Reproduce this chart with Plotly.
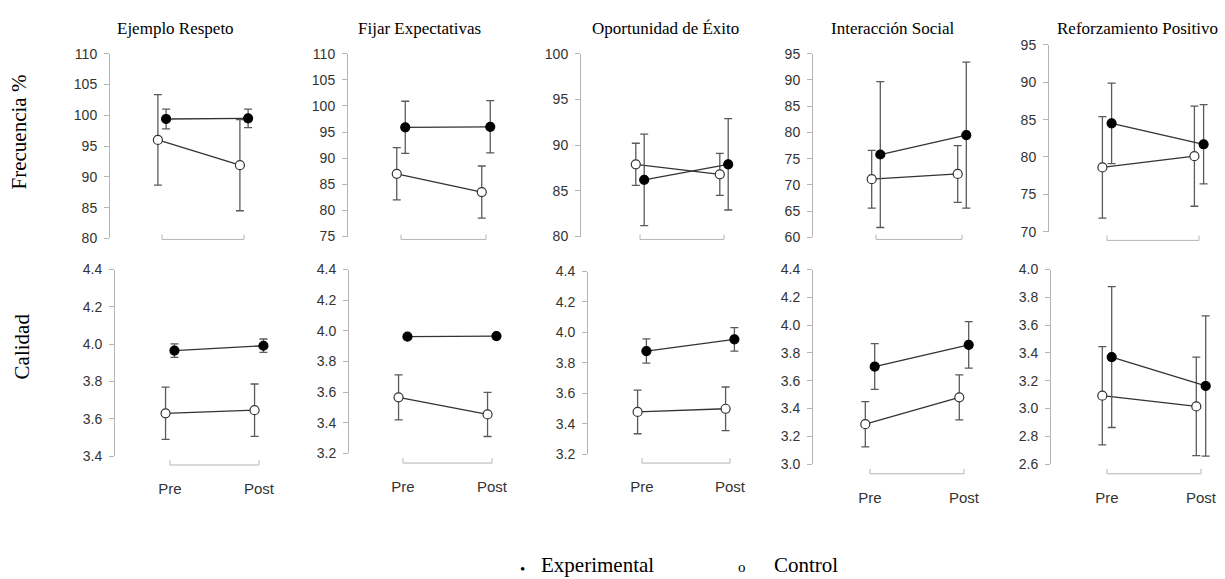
import plotly.graph_objects as go

W, H = 1225, 579

panels = ["Ejemplo Respeto", "Fijar Expectativas", "Oportunidad de Éxito",
          "Interacción Social", "Reforzamiento Positivo"]
phases = ["Pre", "Post"]
groups = ["Experimental", "Control"]

# Frecuencia % (top row): means and half-widths of error bars
freq_exp_mean = [[99.4, 99.5], [95.9, 96.0], [86.2, 87.9], [75.8, 79.5], [84.5, 81.7]]
freq_exp_err = [[1.6, 1.5], [5.0, 5.0], [5.0, 5.0], [13.9, 13.9], [5.4, 5.3]]
freq_ctrl_mean = [[96.0, 91.9], [87.0, 83.5], [87.9, 86.8], [71.1, 72.1], [78.6, 80.1]]
freq_ctrl_err = [[7.35, 7.4], [5.0, 5.0], [2.3, 2.3], [5.5, 5.4], [6.8, 6.7]]

# Calidad (bottom row)
cal_exp_mean = [[3.966, 3.992], [3.962, 3.966], [3.878, 3.955], [3.702, 3.858], [3.37, 3.162]]
cal_exp_err = [[0.036, 0.036], [0.008, 0.008], [0.08, 0.077], [0.165, 0.167], [0.507, 0.505]]
cal_ctrl_mean = [[3.63, 3.647], [3.566, 3.454], [3.478, 3.499], [3.287, 3.48], [3.092, 3.015]]
cal_ctrl_err = [[0.14, 0.14], [0.147, 0.144], [0.143, 0.143], [0.163, 0.162], [0.354, 0.355]]

freq_ticks = [[80, 85, 90, 95, 100, 105, 110],
              [75, 80, 85, 90, 95, 100, 105, 110],
              [80, 85, 90, 95, 100],
              [60, 65, 70, 75, 80, 85, 90, 95],
              [70, 75, 80, 85, 90, 95]]
cal_ticks = [[3.4, 3.6, 3.8, 4.0, 4.2, 4.4],
             [3.2, 3.4, 3.6, 3.8, 4.0, 4.2, 4.4],
             [3.2, 3.4, 3.6, 3.8, 4.0, 4.2, 4.4],
             [3.0, 3.2, 3.4, 3.6, 3.8, 4.0, 4.2, 4.4],
             [2.6, 2.8, 3.0, 3.2, 3.4, 3.6, 3.8, 4.0]]

row_titles = ["Frecuencia %", "Calidad"]

# ---- layout constants (pixels) ----
top_axis_x = [110, 348, 581, 813, 1049]
top_pre = [162, 401, 640, 876, 1107]
top_post = [244, 486, 724, 962, 1199]
top_ytop = [47, 47, 47, 47, 38]
top_ybot = [237, 235, 235, 236, 230]
top_bracket = [238, 238, 238, 238, 239]

bot_axis_x = [115, 349, 588, 813, 1051]
bot_pre = [170, 403, 642, 870, 1107]
bot_post = [259, 492, 730, 964, 1201]
bot_ytop = [269, 269, 271, 269, 269]
bot_ybot = [461, 458, 459, 469, 469]
bot_bracket = [470, 468, 468, 479, 479]

title_x = [175, 419, 665, 892, 1137]
DODGE = 0.05

AXIS_GRAY = "#b5b5b5"
TEXT_GRAY = "#333333"
ERR_GRAY = "#5a5a5a"
LINE_COL = "#333333"

fig = go.Figure()
layout = dict(
    width=W, height=H,
    margin=dict(l=0, r=0, t=0, b=0),
    paper_bgcolor="white", plot_bgcolor="white",
    showlegend=False,
)
shapes = []
annotations = []

rows = [
    (freq_exp_mean, freq_exp_err, freq_ctrl_mean, freq_ctrl_err, freq_ticks,
     top_axis_x, top_pre, top_post, top_ytop, top_ybot, top_bracket, False, "%d"),
    (cal_exp_mean, cal_exp_err, cal_ctrl_mean, cal_ctrl_err, cal_ticks,
     bot_axis_x, bot_pre, bot_post, bot_ytop, bot_ybot, bot_bracket, True, ".1f"),
]

k = 0
for (em, ee, cm, ce, ticks, axx, pre, post, yt, yb, br, show_lbl, fmt) in rows:
    for i in range(5):
        k += 1
        suffix = "" if k == 1 else str(k)
        xname, yname = "x" + suffix, "y" + suffix
        span = post[i] - pre[i]
        right_px = min(post[i] + 22, W - 1)
        r0 = 1 - (pre[i] - axx[i]) / span
        r1 = 2 + (right_px - post[i]) / span
        xdom = [axx[i] / W, right_px / W]
        ydom = [1 - yb[i] / H, 1 - yt[i] / H]
        layout["xaxis" + suffix] = dict(
            domain=xdom, range=[r0, r1], anchor="free", position=1 - br[i] / H,
            showgrid=False, zeroline=False, showline=False, ticks="",
            tickvals=[1, 2], ticktext=phases, showticklabels=show_lbl,
            tickfont=dict(family="Liberation Sans, Arial", size=15, color=TEXT_GRAY),
            ticklabelstandoff=13, fixedrange=True,
        )
        layout["yaxis" + suffix] = dict(
            domain=ydom, range=[ticks[i][0], ticks[i][-1]], anchor=xname,
            showgrid=False, zeroline=False, showline=True, linecolor=AXIS_GRAY,
            linewidth=1, ticks="outside", ticklen=5, tickcolor=AXIS_GRAY,
            tickvals=ticks[i], tickformat=fmt, ticklabelstandoff=4,
            tickfont=dict(family="Liberation Sans, Arial", size=14, color=TEXT_GRAY),
            fixedrange=True,
        )
        # bracket-like x axis
        ybp = 1 - br[i] / H
        ytp = 1 - (br[i] - 5) / H
        shapes.append(dict(
            type="path", xref=xname, yref="paper",
            path=f"M 1,{ytp} L 1,{ybp} L 2,{ybp} L 2,{ytp}",
            line=dict(color=AXIS_GRAY, width=1),
        ))
        # control trace
        fig.add_trace(go.Scatter(
            x=[1 - DODGE, 2 - DODGE], y=cm[i], xaxis=xname, yaxis=yname,
            mode="lines+markers", name=groups[1],
            line=dict(color=LINE_COL, width=1.3),
            marker=dict(size=9, color="white", line=dict(color=LINE_COL, width=1.2)),
            error_y=dict(type="data", array=ce[i], color=ERR_GRAY, thickness=1.3, width=4),
            cliponaxis=False,
        ))
        # experimental trace
        fig.add_trace(go.Scatter(
            x=[1 + DODGE, 2 + DODGE], y=em[i], xaxis=xname, yaxis=yname,
            mode="lines+markers", name=groups[0],
            line=dict(color=LINE_COL, width=1.3),
            marker=dict(size=9, color="black", line=dict(color="black", width=1.2)),
            error_y=dict(type="data", array=ee[i], color=ERR_GRAY, thickness=1.3, width=4),
            cliponaxis=False,
        ))

SERIF = "Liberation Serif, Times New Roman, serif"
for i, t in enumerate(panels):
    annotations.append(dict(
        text=t, x=title_x[i] / W, y=1 - 21 / H, xref="paper", yref="paper",
        xanchor="center", yanchor="middle", showarrow=False,
        font=dict(family=SERIF, size=17, color="black"),
    ))

annotations.append(dict(text=row_titles[0], x=19 / W, y=1 - 128 / H, xref="paper", yref="paper",
                        textangle=-90, showarrow=False, xanchor="center", yanchor="middle",
                        font=dict(family=SERIF, size=21, color="black")))
annotations.append(dict(text=row_titles[1], x=22 / W, y=1 - 348 / H, xref="paper", yref="paper",
                        textangle=-90, showarrow=False, xanchor="center", yanchor="middle",
                        font=dict(family=SERIF, size=21, color="black")))

# legend (as text)
LEG_Y = 1 - 569 / H
annotations.append(dict(text="•", x=522 / W, y=LEG_Y, xref="paper", yref="paper",
                        showarrow=False, xanchor="center", yanchor="middle", yshift=-8,
                        font=dict(family=SERIF, size=15, color="black")))
annotations.append(dict(text=groups[0], x=539 / W, y=LEG_Y, xref="paper", yref="paper",
                        showarrow=False, xanchor="left", yanchor="middle", yshift=-4,
                        font=dict(family=SERIF, size=21, color="black")))
annotations.append(dict(text="o", x=742 / W, y=LEG_Y, xref="paper", yref="paper",
                        showarrow=False, xanchor="center", yanchor="middle", yshift=-6,
                        font=dict(family=SERIF, size=15, color="black")))
annotations.append(dict(text=groups[1], x=772 / W, y=LEG_Y, xref="paper", yref="paper",
                        showarrow=False, xanchor="left", yanchor="middle", yshift=-4,
                        font=dict(family=SERIF, size=21, color="black")))

layout["shapes"] = shapes
layout["annotations"] = annotations
fig.update_layout(**layout)
fig.write_html("out.html")
